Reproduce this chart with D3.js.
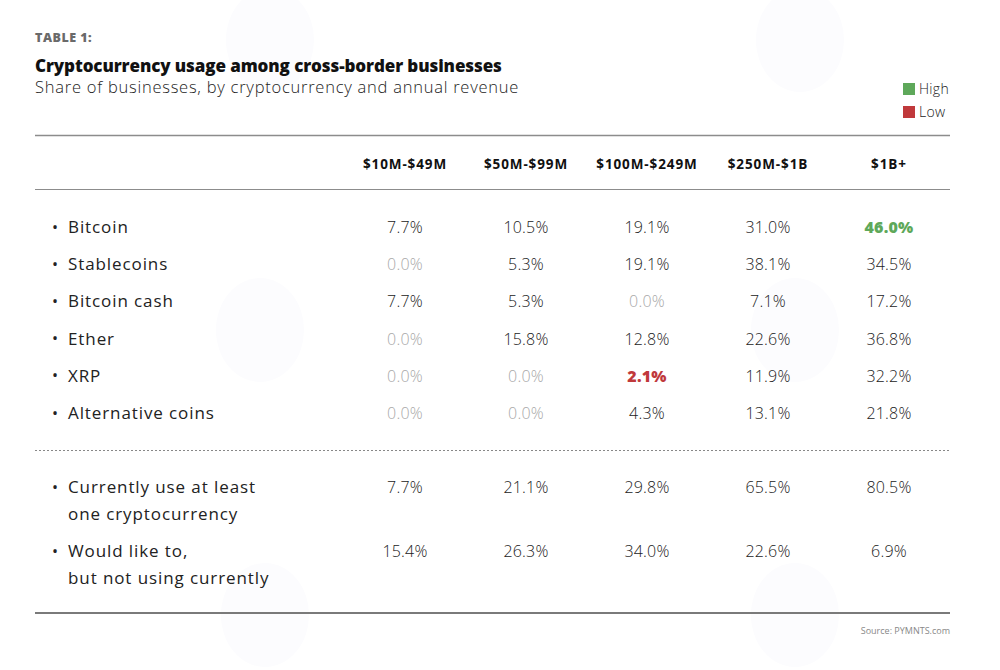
<!DOCTYPE html>
<html>
<head>
<meta charset="utf-8">
<script src="https://cdn.jsdelivr.net/npm/d3@7"></script>
<style>
  body { margin: 0; background: #fff; }
  svg { display: block; font-family: "Open Sans", sans-serif; }
</style>
</head>
<body>
<svg id="chart" width="1000" height="670"></svg>
<script>
const columns = ["$10M-$49M", "$50M-$99M", "$100M-$249M", "$250M-$1B", "$1B+"];
const coinRows = ["Bitcoin", "Stablecoins", "Bitcoin cash", "Ether", "XRP", "Alternative coins"];
const coinValues = [
  [7.7, 10.5, 19.1, 31.0, 46.0],
  [0.0, 5.3, 19.1, 38.1, 34.5],
  [7.7, 5.3, 0.0, 7.1, 17.2],
  [0.0, 15.8, 12.8, 22.6, 36.8],
  [0.0, 0.0, 2.1, 11.9, 32.2],
  [0.0, 0.0, 4.3, 13.1, 21.8]
];
const usageRows = [["Currently use at least", "one cryptocurrency"], ["Would like to,", "but not using currently"]];
const usageValues = [
  [7.7, 21.1, 29.8, 65.5, 80.5],
  [15.4, 26.3, 34.0, 22.6, 6.9]
];
// highlighted cells: [row, col]
const highCell = [0, 4];
const lowCell = [4, 2];

const textColor = "#222";
const muted = "#a8a8a8";
const green = "#5ea85a";
const red = "#c0393b";
const left = 35, right = 950;

const svg = d3.select("#chart");

// faint watermark blobs
const blobs = [[270, 40], [800, 40], [260, 330], [795, 330], [265, 615], [795, 615]];
svg.append("g").selectAll("ellipse").data(blobs)
  .join("ellipse")
  .attr("cx", d => d[0]).attr("cy", d => d[1])
  .attr("rx", 44).attr("ry", 52)
  .attr("fill", "#fcfcfe");

// header texts
svg.append("text").attr("x", left).attr("y", 42)
  .attr("font-size", 12.5).attr("font-weight", 800).attr("fill", "#6a6a6a")
  .attr("letter-spacing", 0.5)
  .text("TABLE 1:");
svg.append("text").attr("x", left).attr("y", 72)
  .attr("font-size", 17).attr("font-weight", 800).attr("fill", "#111")
  .attr("letter-spacing", -0.1)
  .text("Cryptocurrency usage among cross-border businesses");
svg.append("text").attr("x", left).attr("y", 93)
  .attr("font-size", 16.5).attr("font-weight", 300).attr("fill", textColor)
  .attr("letter-spacing", 0.75)
  .text("Share of businesses, by cryptocurrency and annual revenue");

// legend
const legend = svg.append("g").selectAll("g")
  .data([{ label: "High", color: green }, { label: "Low", color: red }])
  .join("g").attr("transform", (d, i) => `translate(903,${83 + i * 23})`);
legend.append("rect").attr("width", 12).attr("height", 12).attr("fill", d => d.color);
legend.append("text").attr("x", 16).attr("y", 11)
  .attr("font-size", 14).attr("font-weight", 300).attr("fill", textColor)
  .attr("letter-spacing", 0.3)
  .text(d => d.label);

// column scale
const x = d3.scalePoint().domain(columns).range([405, 889]);

// rules
const rule = (y, dash, w, c) => svg.append("line")
  .attr("x1", left).attr("x2", right).attr("y1", y).attr("y2", y)
  .attr("stroke", c).attr("stroke-width", w)
  .attr("stroke-dasharray", dash);
rule(135.5, null, 1.6, "#8c8c8c");
rule(189.5, null, 1.2, "#8c8c8c");
rule(450.5, "2,2", 1, "#888");
rule(613, null, 2, "#7a7a7a");

svg.append("g").selectAll("text").data(columns)
  .join("text")
  .attr("x", d => x(d)).attr("y", 169)
  .attr("text-anchor", "middle")
  .attr("font-size", 13.5).attr("font-weight", 700).attr("fill", "#111")
  .attr("letter-spacing", 0.9)
  .text(d => d);

// coin rows
const yCoin = d3.scalePoint().domain(coinRows).range([227, 413]);
const fmt = d3.format(".1f");

function isHigh(table, ri, ci) { return table === 0 && ri === highCell[0] && ci === highCell[1]; }
function isLow(table, ri, ci) { return table === 0 && ri === lowCell[0] && ci === lowCell[1]; }

function cellStyle(sel, ri, table) {
  sel.attr("fill", (v, ci) => {
    if (isHigh(table, ri, ci)) return green;
    if (isLow(table, ri, ci)) return red;
    return v === 0 ? muted : textColor;
  }).attr("font-weight", (v, ci) =>
    (isHigh(table, ri, ci) || isLow(table, ri, ci)) ? 800 : 300);
}

const coinG = svg.append("g").selectAll("g").data(coinRows)
  .join("g").attr("transform", d => `translate(0,${yCoin(d)})`);
coinG.append("text").attr("x", 52).attr("y", 5.5)
  .attr("font-size", 16).attr("fill", textColor).text("•");
coinG.append("text").attr("x", 68).attr("y", 6)
  .attr("font-size", 17).attr("font-weight", 400).attr("fill", textColor)
  .attr("letter-spacing", 0.9)
  .text(d => d);
coinG.each(function (d, ri) {
  d3.select(this).selectAll(".val").data(coinValues[ri])
    .join("text").attr("class", "val")
    .attr("x", (v, ci) => x(columns[ci])).attr("y", 6)
    .attr("text-anchor", "middle").attr("font-size", 16)
    .attr("letter-spacing", 0.2)
    .text(v => fmt(v) + "%")
    .call(cellStyle, ri, 0);
});

// usage rows
const yUse = d3.scalePoint().domain([0, 1]).range([487, 551]);
const useG = svg.append("g").selectAll("g").data(usageRows)
  .join("g").attr("transform", (d, i) => `translate(0,${yUse(i)})`);
useG.append("text").attr("x", 52).attr("y", 5.5)
  .attr("font-size", 16).attr("fill", textColor).text("•");
useG.append("text").attr("font-size", 17).attr("font-weight", 400).attr("fill", textColor)
  .attr("letter-spacing", 0.9)
  .selectAll("tspan").data(d => d)
  .join("tspan").attr("x", 68).attr("y", (d, i) => 6 + i * 27).text(d => d);
useG.each(function (d, ri) {
  d3.select(this).selectAll(".val").data(usageValues[ri])
    .join("text").attr("class", "val")
    .attr("x", (v, ci) => x(columns[ci])).attr("y", 6)
    .attr("text-anchor", "middle").attr("font-size", 16)
    .attr("letter-spacing", 0.2)
    .text(v => fmt(v) + "%")
    .call(cellStyle, ri, 1);
});

svg.append("text").attr("x", right).attr("y", 634)
  .attr("text-anchor", "end").attr("font-size", 9).attr("fill", "#888")
  .text("Source: PYMNTS.com");
</script>
</body>
</html>
